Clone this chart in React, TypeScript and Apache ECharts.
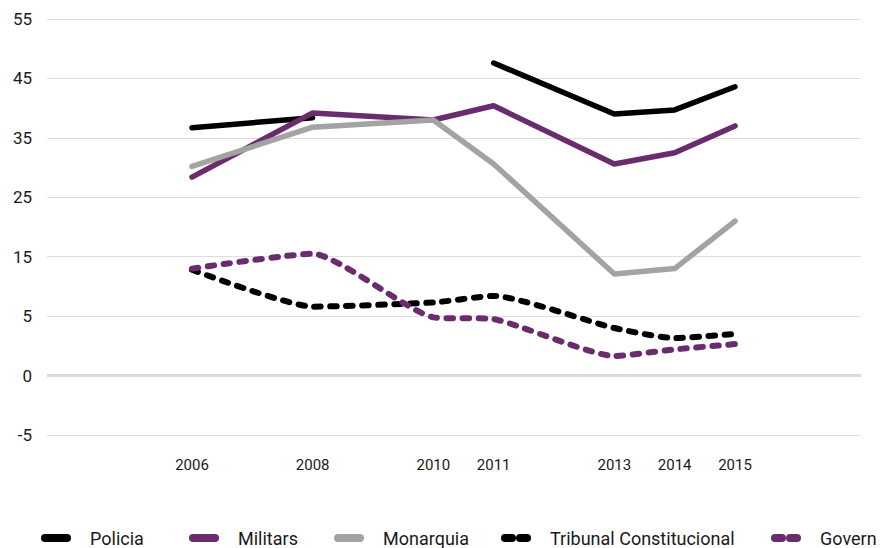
import React, { useEffect, useRef } from "react";
import * as echarts from "echarts";

const years = [2006, 2008, 2010, 2011, 2013, 2014, 2015];
const policia = [36.7, 38.4, null, 47.6, 39.0, 39.7, 43.6];
const militars = [28.4, 39.2, 38.0, 40.4, 30.6, 32.5, 37.0];
const monarquia = [30.2, 36.8, 38.0, 30.6, 12.1, 13.0, 21.0];
const tribunal = [12.8, 6.6, 7.3, 8.4, 4.0, 3.15, 3.5];
const govern = [13.0, 15.5, 4.9, 4.75, 1.65, 2.2, 2.65];
const yTickLabels = [-5, 0, 5, 15, 25, 35, 45, 55];

// The chart's value axis is piecewise: one gridline step is 5 units below 5, and 10 units above it.
const toPos = (v: number | null) => (v == null ? null : v >= 5 ? v + 5 : v * 2);
const fromPos = (p: number) => (p >= 10 ? p - 5 : p / 2);

const PURPLE = "#6a2c6d";
const GRAY = "#a3a3a3";
const BLACK = "#000000";
const FONT = "Roboto";

const SOLID_ICON = "path://M4,0 H26 A4,4 0 0 1 26,8 H4 A4,4 0 0 1 4,0 Z";
const DASH_ICON =
  "path://M4,0 H11 A4,4 0 0 1 11,8 H4 A4,4 0 0 1 4,0 Z M19,0 H26 A4,4 0 0 1 26,8 H19 A4,4 0 0 1 19,0 Z";

export default function App() {
  const ref = useRef<HTMLDivElement>(null);
  useEffect(() => {
    if (!ref.current) return;
    const chart = echarts.init(ref.current, null, { renderer: "svg" });
    const mk = (name: string, vals: (number | null)[], color: string, dashed: boolean) => ({
      name,
      type: "line",
      data: years.map((y, i) => [y, toPos(vals[i])]),
      showSymbol: false,
      symbol: "none",
      smooth: dashed ? 0.18 : false,
      connectNulls: false,
      lineStyle: {
        color,
        width: dashed ? 6 : 5.5,
        type: dashed ? [6.5, 9.5] : "solid",
        cap: "round",
        join: "round",
      },
      itemStyle: { color },
    });
    const defs = [
      { name: "Policia", vals: policia, color: BLACK, dashed: false, left: 41 },
      { name: "Militars", vals: militars, color: PURPLE, dashed: false, left: 189 },
      { name: "Monarquia", vals: monarquia, color: GRAY, dashed: false, left: 334 },
      { name: "Tribunal Constitucional", vals: tribunal, color: BLACK, dashed: true, left: 501 },
      { name: "Govern", vals: govern, color: PURPLE, dashed: true, left: 771 },
    ];
    const series: any[] = defs.map((d) => mk(d.name, d.vals, d.color, d.dashed));
    series[0].markLine = {
      silent: true,
      symbol: "none",
      label: { show: false },
      lineStyle: { color: "#d9d9d9", width: 3, type: "solid" },
      data: [{ yAxis: 0 }],
    };
    const legends = defs.map((d) => ({
      top: 529,
      left: d.left,
      padding: 0,
      itemWidth: 30,
      itemHeight: 8,
      textStyle: { fontFamily: FONT, fontSize: 18, color: "#1a1a1a", padding: [0, 0, 0, 14] },
      data: [{ name: d.name, icon: d.dashed ? DASH_ICON : SOLID_ICON, itemStyle: { color: d.color } }],
    }));
    chart.setOption({
      animation: false,
      backgroundColor: "#ffffff",
      grid: { left: 47, right: 30, top: 19, bottom: 113 },
      xAxis: {
        type: "value",
        min: 2003.597,
        max: 2017.088,
        splitLine: { show: false },
        axisLine: { show: false },
        axisTick: { show: false },
        axisLabel: {
          customValues: years,
          formatter: (v: number) => String(Math.round(v)),
          fontFamily: FONT,
          fontSize: 15,
          color: "#1a1a1a",
          margin: 22,
        },
      },
      yAxis: {
        type: "value",
        min: toPos(yTickLabels[0]),
        max: toPos(yTickLabels[yTickLabels.length - 1]),
        interval: 10,
        axisLine: { show: false },
        axisTick: { show: false },
        splitLine: { show: true, lineStyle: { color: "#dedede", width: 1 } },
        axisLabel: {
          formatter: (p: number) => String(fromPos(p)),
          fontFamily: FONT,
          fontSize: 17,
          color: "#1a1a1a",
          margin: 15,
        },
      },
      legend: legends,
      series,
    });
    return () => chart.dispose();
  }, []);
  return (
    <div
      ref={ref}
      style={{ position: "fixed", left: 0, top: 0, width: 891, height: 548, background: "#fff" }}
    />
  );
}
